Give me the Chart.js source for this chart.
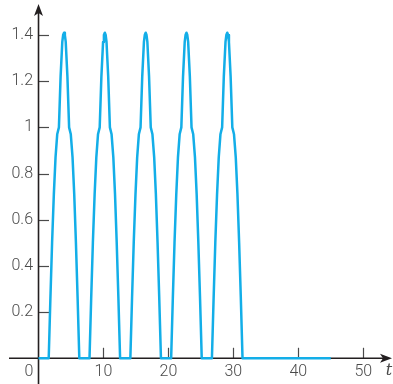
<!DOCTYPE html>
<html>
<head>
<meta charset="utf-8">
<script src="https://cdn.jsdelivr.net/npm/chart.js@4/dist/chart.umd.min.js"></script>
<style>
  html, body { margin: 0; padding: 0; background: #fff; }
  #wrap { position: relative; width: 393px; height: 384px; }
</style>
</head>
<body>
<div id="wrap"><canvas id="c"></canvas></div>
<script>
// 五个脉冲：每个脉冲起点 t，以及脉冲内部的相对 t 与取值
const pulseStarts = [1.57, 7.85, 14.14, 20.42, 26.70];
const pulseDt = [0, 0.26, 0.52, 0.79, 1.05, 1.31, 1.57, 1.83, 2.09, 2.22, 2.36, 2.49, 2.62, 2.88, 3.14, 3.40, 3.67, 3.93, 4.19, 4.45, 4.71];
const pulseY  = [0, 0.26, 0.50, 0.71, 0.87, 0.97, 1.00, 1.22, 1.37, 1.40, 1.41, 1.40, 1.37, 1.22, 1.00, 0.97, 0.87, 0.71, 0.50, 0.26, 0];
const tStart = 0, tEnd = 45;

const xTicks = [10, 20, 30, 40, 50];
const yTicks = [0.2, 0.4, 0.6, 0.8, 1, 1.2, 1.4];

const points = [{ x: tStart, y: 0 }];
pulseStarts.forEach((s) => {
  pulseDt.forEach((d, i) => points.push({ x: +(s + d).toFixed(2), y: pulseY[i] }));
});
points.push({ x: tEnd, y: 0 });

const AXIS = '#231f20', TICK = '#4a4a4a', LABEL = '#4a4a4a';
const FONT = '300 16px Roboto, "Liberation Sans", sans-serif';

// 坐标轴、箭头、刻度、标签都自己画（在曲线之下）
const axes = {
  id: 'axes',
  beforeDatasetsDraw(chart) {
    const { ctx } = chart;
    const sx = chart.scales.x, sy = chart.scales.y;
    const x0 = sx.getPixelForValue(0), y0 = sy.getPixelForValue(0);
    ctx.save();
    // 刻度
    ctx.strokeStyle = TICK; ctx.lineWidth = 1.2;
    yTicks.forEach((v) => {
      const y = Math.round(sy.getPixelForValue(v)) + 0.5;
      ctx.beginPath(); ctx.moveTo(x0, y); ctx.lineTo(x0 + 10.5, y); ctx.stroke();
    });
    xTicks.forEach((v) => {
      const x = Math.round(sx.getPixelForValue(v)) + 0.5;
      ctx.beginPath(); ctx.moveTo(x, y0); ctx.lineTo(x, y0 - 10.5); ctx.stroke();
    });
    // 轴线
    ctx.strokeStyle = AXIS; ctx.lineWidth = 1.6;
    ctx.beginPath(); ctx.moveTo(9, y0); ctx.lineTo(386, y0); ctx.stroke();
    ctx.beginPath(); ctx.moveTo(x0, 384); ctx.lineTo(x0, 12); ctx.stroke();
    // 箭头
    ctx.fillStyle = AXIS;
    ctx.beginPath();
    ctx.moveTo(392, y0); ctx.lineTo(380, y0 - 4.5); ctx.lineTo(383, y0); ctx.lineTo(380, y0 + 4.5);
    ctx.closePath(); ctx.fill();
    ctx.beginPath();
    ctx.moveTo(x0, 4); ctx.lineTo(x0 - 4.5, 16); ctx.lineTo(x0, 13); ctx.lineTo(x0 + 4.5, 16);
    ctx.closePath(); ctx.fill();
    // 标签
    ctx.fillStyle = LABEL; ctx.font = FONT;
    ctx.textAlign = 'right'; ctx.textBaseline = 'middle';
    yTicks.forEach((v) => ctx.fillText(String(v), 33, sy.getPixelForValue(v)));
    ctx.textAlign = 'center';
    xTicks.forEach((v) => ctx.fillText(String(v), sx.getPixelForValue(v), y0 + 14));
    ctx.fillText('0', 29, y0 + 14);
    ctx.font = 'italic 16px "DejaVu Serif", "Liberation Serif", serif';
    ctx.fillText('t', 389, y0 + 13);
    ctx.restore();
  },
};

new Chart(document.getElementById('c'), {
  type: 'line',
  data: {
    datasets: [{
      data: points,
      borderColor: '#13aee8',
      borderWidth: 2.5,
      borderJoinStyle: 'round',
      pointRadius: 0,
      tension: 0,
      fill: false,
    }],
  },
  options: {
    responsive: true, maintainAspectRatio: false, animation: false,
    layout: { padding: 0 },
    plugins: { legend: { display: false }, tooltip: { enabled: false } },
    scales: {
      x: { type: 'linear', display: false, min: -5.93, max: 54.58 },
      y: { display: false, min: -0.1114, max: 1.5517 },
    },
  },
  plugins: [axes],
});
</script>
</body>
</html>
